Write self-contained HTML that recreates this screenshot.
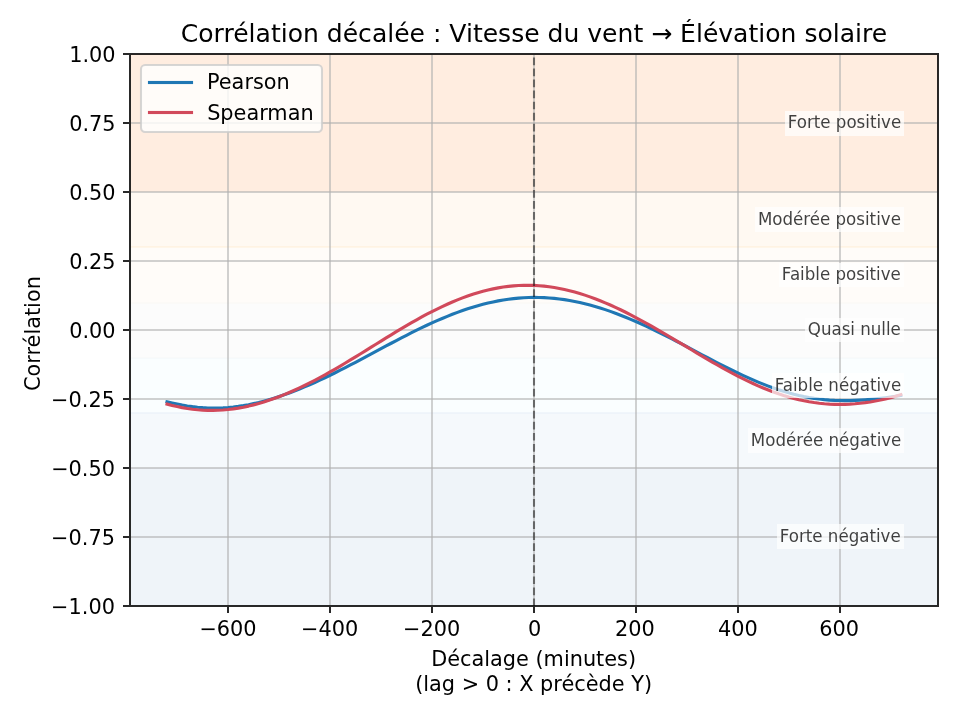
<!DOCTYPE html>
<html lang="fr">
<head>
<meta charset="utf-8">
<title>Corrélation décalée : Vitesse du vent → Élévation solaire</title>
<style>
html,body{margin:0;padding:0;background:#fff;width:960px;height:720px;overflow:hidden}
svg{display:block}
text{font-family:'DejaVu Sans','Liberation Sans',sans-serif;fill:#000}
</style>
</head>
<body>
<svg width="960" height="720" viewBox="0 0 960 720" role="img" aria-label="Corrélation décalée">
<rect width="960" height="720" fill="#fff"/>
<!-- bandes de corrélation -->
<g shape-rendering="crispEdges">
<rect x="130" y="54" width="808" height="138" fill="#ffede0"/>
<rect x="130" y="192" width="808" height="55" fill="#fff9f2"/>
<rect x="130" y="247" width="808" height="56" fill="#fffcf9"/>
<rect x="130" y="303" width="808" height="55" fill="#fcfcfc"/>
<rect x="130" y="358" width="808" height="55" fill="#fafeff"/>
<rect x="130" y="413" width="808" height="55" fill="#f5f9fc"/>
<rect x="130" y="468" width="808" height="138" fill="#eff4f9"/>
<rect x="130" y="246" width="808" height="1" fill="#fff3e3"/>
<rect x="130" y="247" width="808" height="1" fill="#fff6e9"/>
<rect x="130" y="302" width="808" height="1" fill="#fcfaf7"/>
<rect x="130" y="303" width="808" height="1" fill="#fbfaf8"/>
<rect x="130" y="357" width="808" height="1" fill="#f9fafa"/>
<rect x="130" y="358" width="808" height="1" fill="#f6fafc"/>
<rect x="130" y="412" width="808" height="1" fill="#f0f6fb"/>
<rect x="130" y="413" width="808" height="1" fill="#eef4fa"/>
<!-- grille -->
<g fill="#b0b0b0" fill-opacity="0.583">
<rect x="227" y="55" width="2" height="550"/>
<rect x="329" y="55" width="2" height="550"/>
<rect x="431" y="55" width="2" height="550"/>
<rect x="533" y="55" width="2" height="550"/>
<rect x="635" y="55" width="2" height="550"/>
<rect x="737" y="55" width="2" height="550"/>
<rect x="839" y="55" width="2" height="550"/>
<rect x="131" y="122" width="806" height="2"/>
<rect x="131" y="191" width="806" height="2"/>
<rect x="131" y="260" width="806" height="2"/>
<rect x="131" y="329" width="806" height="2"/>
<rect x="131" y="398" width="806" height="2"/>
<rect x="131" y="467" width="806" height="2"/>
<rect x="131" y="536" width="806" height="2"/>
</g></g>
<!-- courbes -->
<g fill="none" stroke-width="3.125" stroke-linecap="square" stroke-linejoin="round">
<path d="M166.99 401.85 L172.09 403.01 L177.18 404.09 L182.28 405.07 L187.37 405.93 L192.47 406.65 L197.57 407.23 L202.66 407.67 L207.76 407.95 L212.85 408.07 L217.95 408.04 L223.05 407.85 L228.14 407.51 L233.24 407.02 L238.33 406.38 L243.43 405.61 L248.53 404.69 L253.62 403.64 L258.72 402.47 L263.81 401.17 L268.91 399.75 L274.01 398.22 L279.1 396.58 L284.2 394.83 L289.29 392.99 L294.39 391.05 L299.49 389.02 L304.58 386.91 L309.68 384.72 L314.77 382.45 L319.87 380.12 L324.97 377.72 L330.06 375.26 L335.16 372.74 L340.25 370.18 L345.35 367.58 L350.45 364.94 L355.54 362.27 L360.64 359.58 L365.73 356.86 L370.83 354.14 L375.93 351.41 L381.02 348.68 L386.12 345.96 L391.21 343.25 L396.31 340.57 L401.41 337.91 L406.5 335.29 L411.6 332.71 L416.69 330.18 L421.79 327.7 L426.88 325.28 L431.98 322.93 L437.08 320.65 L442.17 318.45 L447.27 316.34 L452.36 314.31 L457.46 312.38 L462.56 310.55 L467.65 308.83 L472.75 307.21 L477.84 305.7 L482.94 304.32 L488.04 303.05 L493.13 301.91 L498.23 300.89 L503.32 300 L508.42 299.23 L513.52 298.61 L518.61 298.11 L523.71 297.75 L528.8 297.52 L533.9 297.42 L539 297.46 L544.09 297.64 L549.19 297.94 L554.28 298.38 L559.38 298.95 L564.48 299.65 L569.57 300.48 L574.67 301.44 L579.76 302.51 L584.86 303.71 L589.96 305.02 L595.05 306.45 L600.15 307.99 L605.24 309.63 L610.34 311.38 L615.44 313.23 L620.53 315.17 L625.63 317.2 L630.72 319.32 L635.82 321.51 L640.92 323.78 L646.01 326.13 L651.11 328.53 L656.2 331 L661.3 333.52 L666.39 336.08 L671.49 338.69 L676.59 341.32 L681.68 343.99 L686.78 346.67 L691.87 349.37 L696.97 352.07 L702.07 354.77 L707.16 357.45 L712.26 360.13 L717.35 362.77 L722.45 365.38 L727.55 367.95 L732.64 370.48 L737.74 372.94 L742.83 375.34 L747.93 377.67 L753.03 379.92 L758.12 382.08 L763.22 384.14 L768.31 386.11 L773.41 387.96 L778.51 389.71 L783.6 391.33 L788.7 392.83 L793.79 394.2 L798.89 395.45 L803.99 396.55 L809.08 397.53 L814.18 398.37 L819.27 399.07 L824.37 399.64 L829.47 400.07 L834.56 400.38 L839.66 400.56 L844.75 400.63 L849.85 400.58 L854.95 400.42 L860.04 400.17 L865.14 399.83 L870.23 399.4 L875.33 398.9 L880.43 398.34 L885.52 397.71 L890.62 397.04 L895.71 396.31 L900.81 395.54" stroke="#1f77b4"/>
<path d="M166.99 404.11 L172.09 405.41 L177.18 406.59 L182.28 407.62 L187.37 408.5 L192.47 409.21 L197.57 409.76 L202.66 410.14 L207.76 410.36 L212.85 410.4 L217.95 410.27 L223.05 409.98 L228.14 409.52 L233.24 408.9 L238.33 408.12 L243.43 407.19 L248.53 406.1 L253.62 404.88 L258.72 403.5 L263.81 402 L268.91 400.35 L274.01 398.58 L279.1 396.68 L284.2 394.67 L289.29 392.54 L294.39 390.29 L299.49 387.95 L304.58 385.5 L309.68 382.96 L314.77 380.33 L319.87 377.62 L324.97 374.83 L330.06 371.97 L335.16 369.04 L340.25 366.06 L345.35 363.03 L350.45 359.96 L355.54 356.85 L360.64 353.72 L365.73 350.57 L370.83 347.4 L375.93 344.23 L381.02 341.07 L386.12 337.92 L391.21 334.8 L396.31 331.7 L401.41 328.65 L406.5 325.64 L411.6 322.68 L416.69 319.79 L421.79 316.98 L426.88 314.24 L431.98 311.58 L437.08 309.03 L442.17 306.57 L447.27 304.22 L452.36 301.98 L457.46 299.87 L462.56 297.88 L467.65 296.02 L472.75 294.3 L477.84 292.72 L482.94 291.29 L488.04 290 L493.13 288.86 L498.23 287.88 L503.32 287.05 L508.42 286.38 L513.52 285.87 L518.61 285.52 L523.71 285.33 L528.8 285.3 L533.9 285.43 L539 285.72 L544.09 286.17 L549.19 286.77 L554.28 287.53 L559.38 288.44 L564.48 289.49 L569.57 290.69 L574.67 292.03 L579.76 293.51 L584.86 295.13 L589.96 296.87 L595.05 298.74 L600.15 300.73 L605.24 302.83 L610.34 305.04 L615.44 307.35 L620.53 309.76 L625.63 312.27 L630.72 314.85 L635.82 317.52 L640.92 320.26 L646.01 323.06 L651.11 325.92 L656.2 328.83 L661.3 331.78 L666.39 334.77 L671.49 337.79 L676.59 340.83 L681.68 343.88 L686.78 346.94 L691.87 350 L696.97 353.04 L702.07 356.07 L707.16 359.06 L712.26 362.03 L717.35 364.95 L722.45 367.81 L727.55 370.62 L732.64 373.36 L737.74 376.03 L742.83 378.61 L747.93 381.11 L753.03 383.5 L758.12 385.8 L763.22 387.98 L768.31 390.04 L773.41 391.98 L778.51 393.79 L783.6 395.47 L788.7 397.02 L793.79 398.42 L798.89 399.67 L803.99 400.78 L809.08 401.74 L814.18 402.56 L819.27 403.22 L824.37 403.73 L829.47 404.1 L834.56 404.32 L839.66 404.39 L844.75 404.32 L849.85 404.11 L854.95 403.77 L860.04 403.29 L865.14 402.67 L870.23 401.93 L875.33 401.06 L880.43 400.05 L885.52 398.91 L890.62 397.63 L895.71 396.19 L900.81 394.59" stroke="#d1495b"/>
</g>
<path d="M534 606.2 V54.4" fill="none" stroke="#000" stroke-opacity="0.5" stroke-width="2.083" stroke-dasharray="7.708 3.333"/>
<!-- axes -->
<g shape-rendering="crispEdges" fill="#000" fill-opacity="0.84">
<rect x="129" y="53" width="2" height="554"/><rect x="937" y="53" width="2" height="554"/>
<rect x="131" y="53" width="806" height="2"/><rect x="131" y="605" width="806" height="2"/>
<rect x="227" y="607" width="2" height="6"/>
<rect x="329" y="607" width="2" height="6"/>
<rect x="431" y="607" width="2" height="6"/>
<rect x="533" y="607" width="2" height="6"/>
<rect x="635" y="607" width="2" height="6"/>
<rect x="737" y="607" width="2" height="6"/>
<rect x="839" y="607" width="2" height="6"/>
<rect x="123" y="53" width="6" height="2"/>
<rect x="123" y="122" width="6" height="2"/>
<rect x="123" y="191" width="6" height="2"/>
<rect x="123" y="260" width="6" height="2"/>
<rect x="123" y="329" width="6" height="2"/>
<rect x="123" y="398" width="6" height="2"/>
<rect x="123" y="467" width="6" height="2"/>
<rect x="123" y="536" width="6" height="2"/>
<rect x="123" y="605" width="6" height="2"/>
</g>
<g font-size="20.833">
<g text-anchor="middle">
<text x="228" y="635.5">−600</text>
<text x="329.6" y="635.59">−400</text>
<text x="431.59" y="635.54">−200</text>
<text x="534.7" y="635.7">0</text>
<text x="634.84" y="635.56">200</text>
<text x="737.99" y="635.59">400</text>
<text x="839.01" y="635.71">600</text>
</g>
<g text-anchor="end">
<text x="115.55" y="61.55">1.00</text>
<text x="115.53" y="130.99">0.75</text>
<text x="115.64" y="199.52">0.50</text>
<text x="115.62" y="269.17">0.25</text>
<text x="115.6" y="338.32">0.00</text>
<text x="114.93" y="406.68">−0.25</text>
<text x="114.96" y="475.57">−0.50</text>
<text x="114.95" y="544.51">−0.75</text>
<text x="114.93" y="613.5">−1.00</text>
</g>
<text x="431.22" y="665.67">Décalage (minutes)</text>
<text x="415.14" y="690.92">(lag &gt; 0 : X précède Y)</text>
<text text-anchor="middle" transform="translate(40.22 333.59) rotate(-90)">Corrélation</text>
</g>
<!-- étiquettes des bandes -->
<g shape-rendering="crispEdges" fill="#fff" fill-opacity="0.7">
<rect x="785" y="111" width="119" height="25"/>
<rect x="755" y="207" width="149" height="25"/>
<rect x="779" y="263" width="125" height="24"/>
<rect x="805" y="318" width="99" height="24"/>
<rect x="772" y="373" width="132" height="25"/>
<rect x="748" y="428" width="156" height="25"/>
<rect x="777" y="524" width="127" height="25"/>
</g>
<g font-size="16.667" text-anchor="end" fill-opacity="0.75">
<text transform="translate(901.19 127.64) scale(1 1.07)">Forte positive</text>
<text transform="translate(900.89 224.59) scale(1 1.07)">Modérée positive</text>
<text transform="translate(900.8 279.54) scale(1 1.07)">Faible positive</text>
<text transform="translate(900.88 334.58) scale(1 1.07)">Quasi nulle</text>
<text transform="translate(901.22 390.97) scale(1 1.07)">Faible négative</text>
<text transform="translate(901.38 445.91) scale(1 1.07)">Modérée négative</text>
<text transform="translate(900.7 541.73) scale(1 1.07)">Forte négative</text>
</g>
<!-- titre -->
<g font-size="25.000" text-anchor="middle">
<text transform="translate(533.97 41.53) scale(1.002 1)">Corrélation décalée : Vitesse du vent → Élévation solaire</text>
</g>
<!-- légende -->
<rect x="141" y="65" width="181" height="67" rx="4.17" fill="#fff" fill-opacity="0.8" stroke="#ccc" stroke-opacity="0.8" stroke-width="2.083"/>
<rect x="147.94" y="80.94" width="45.12" height="3.12" fill="#1f77b4"/>
<rect x="147.94" y="110.94" width="45.12" height="3.12" fill="#d1495b"/>
<g font-size="20.833">
<text x="206.99" y="89.07">Pearson</text>
<text x="207.15" y="119.63">Spearman</text>
</g>
</svg>
</body>
</html>
